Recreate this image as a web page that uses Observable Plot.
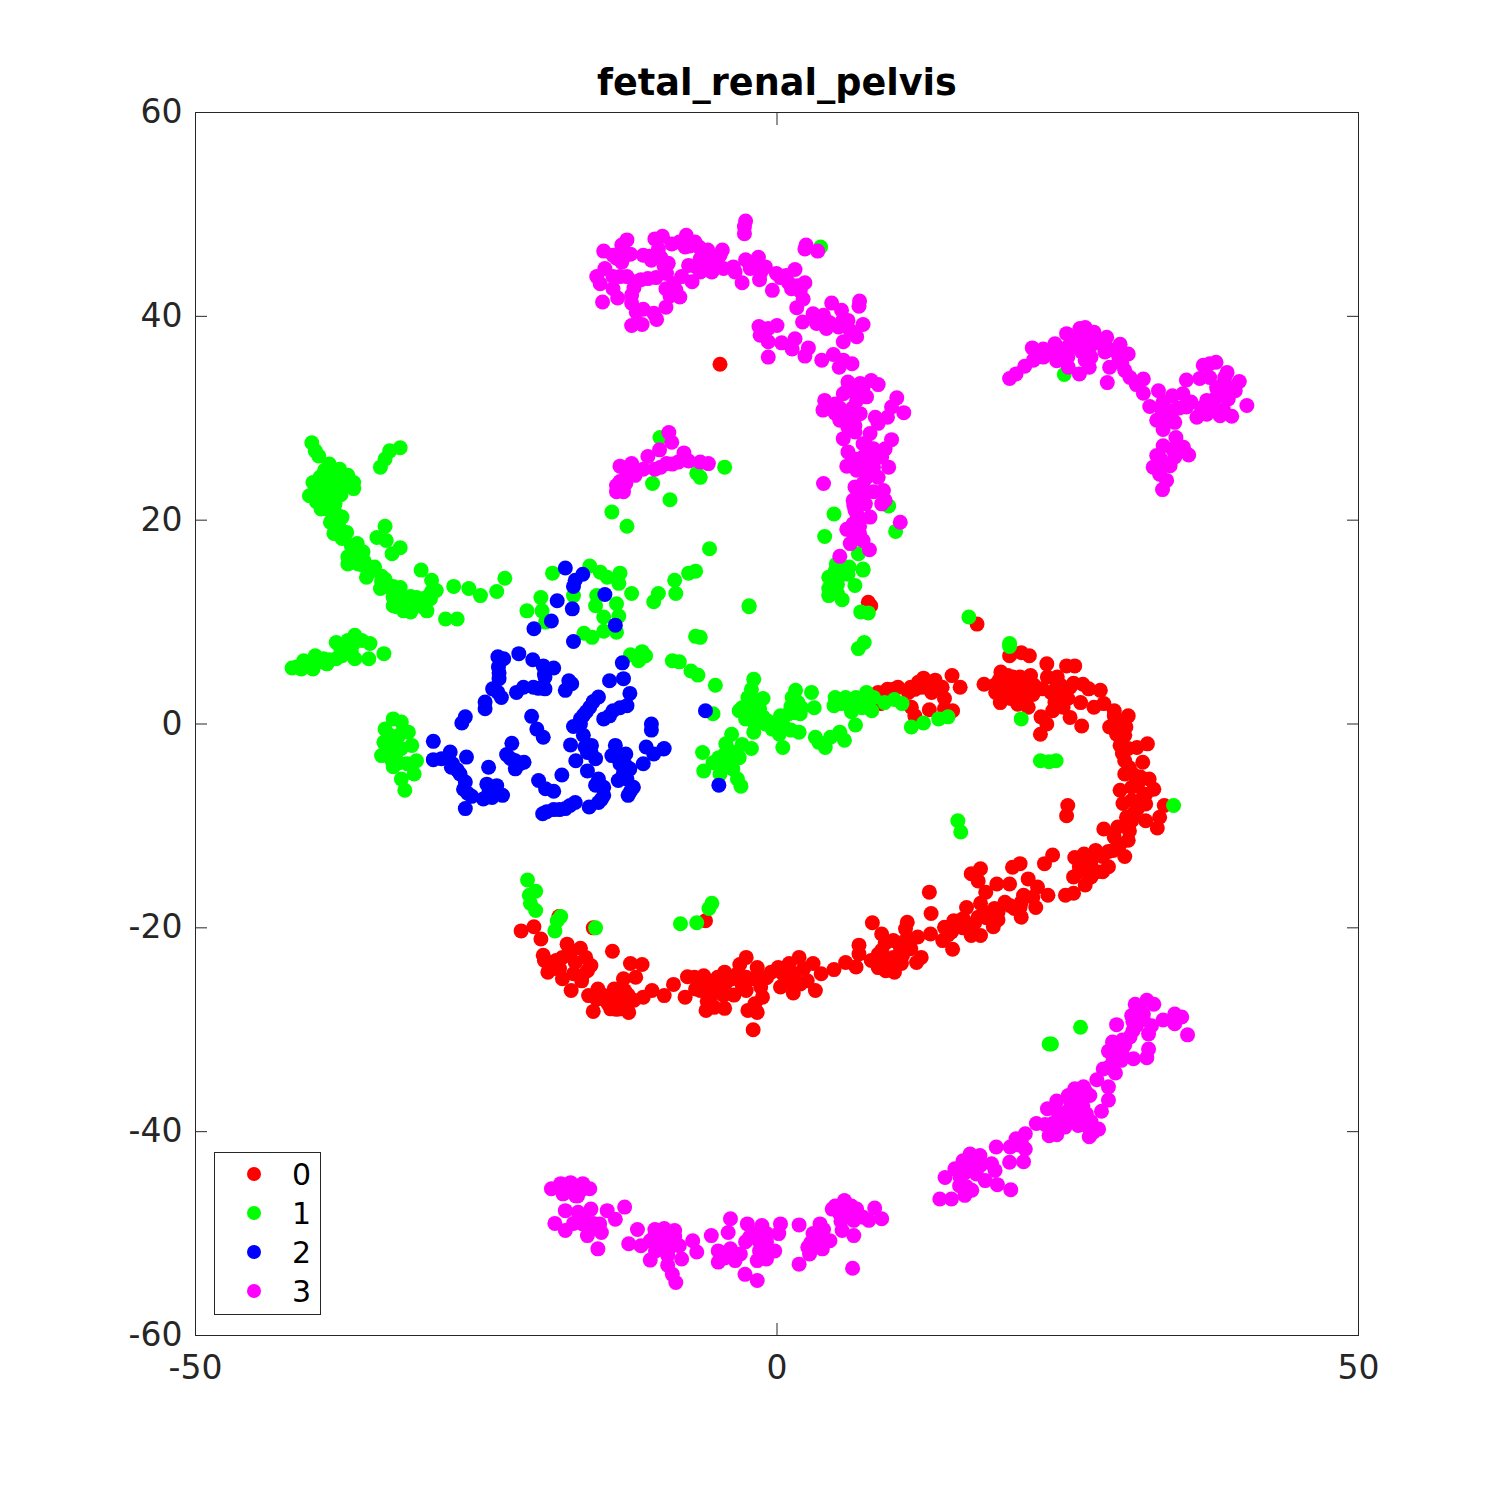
<!DOCTYPE html>
<html>
<head>
<meta charset="utf-8">
<script src="https://cdn.jsdelivr.net/npm/d3@7"></script>
<script src="https://cdn.jsdelivr.net/npm/@observablehq/plot@0.6"></script>
<style>
html,body{margin:0;padding:0;background:#fff}
#wrap{position:relative;width:1500px;height:1500px;font-family:"DejaVu Sans",sans-serif}
#legend{position:absolute;left:214px;top:1152px;width:105px;height:161px;border:1px solid #262626;background:#fff}
#legend .row{position:absolute;left:0;width:105px;height:39px}
#legend .sw{position:absolute;left:32px;top:12px;width:14px;height:14px;border-radius:50%}
#legend .lb{position:absolute;left:77px;top:0;font-size:30px;line-height:39px;color:#000}
</style>
</head>
<body>
<div id="wrap"></div>
<script>
const chartTitle = "fetal_renal_pelvis";
const labels = ["0","1","2","3"];
const colors = ["#ff0000","#00ff00","#0000ff","#ff00ff"];
const xTicks = [-50,0,50];
const yTicks = [-60,-40,-20,0,20,40,60];

const series0 = [[-4.9,35.3],[7.85,11.95],[8.06,11.6],[17.2,9.8],[8.7,3.1],[9.5,3.4],[10.4,3.6],[11.3,3.1],[11.85,3.4],[12.15,4.1],[12.6,4.5],[13,3.8],[13.6,4.3],[14.2,3.6],[13.3,3.1],[14.4,2.5],[15.05,4.75],[15.75,3.6],[11.55,1.65],[11.85,0.8],[13.1,1.4],[15.1,1.3],[14.4,1.5],[8.9,2],
[20,6.7],[21,7],[21.7,6.7],[23.2,5.9],[24.9,5.7],[25.6,5.7],[17.8,3.9],[18.7,3.8],[19.25,5.1],[19.85,4.75],[19.1,4.3],[20.1,3.9],[20.9,4.6],[21.8,4.75],[18.8,3.1],[19.55,2.95],[19.2,2.1],[20.1,2.5],[21,2.6],[20.7,1.95],[21.6,1.65],[22.1,3.8],[22.8,3.45],[23.25,4.6],[24.1,4.6],[23.55,3.1],[24.4,3.8],[25.2,3.6],[26.3,3.9],[26.8,3.45],[26.1,2.1],[24.4,2.5],[24.6,1.65],[23.7,1.3],[22.7,0.7],[25.2,0.65],[23.2,0],[22.65,-1],[26.2,-0.2],[27.8,3.3],[27.25,1.65],[28.1,2],[29,0.8],[30.2,0.8],[28.6,-0.3],[29.6,0],[29.9,-1.1],[29.5,-2.1],[31.85,-1.95],[30.95,-2.3],[30.2,-2.4],[29.9,-3.6],[31.45,-3.75],[29.9,-4.9],[31.25,-5.2],[32,-5.4],[29.5,-6.5],[30.5,-6.2],[32.4,-6.4],[31.7,-6.9],[29.75,-7.8],[31.7,-7.85],[33.3,-8],[32.9,-9.15],[31.7,-9.5],[30.65,-8.8],[30.05,-9.15],[32.7,-10.2],[28.1,-10.3],[29.3,-10.1],[30.2,-10.1],[29,-11.1],[30.2,-11.4],[25,-8],[24.9,-9],[28.9,-12.4],[29.9,-13],[27.4,-12.4],[26.4,-12.75],[25.6,-13.1],[23.7,-12.85],[26,-14],[27,-15],[27.5,-14.5],[28.5,-14],[25.5,-15],[26.5,-15.8],[24.8,-16.8],[25.5,-16.6],[27,-13.5],
[23,-13.7],[20.9,-13.7],[20.25,-14.05],[17.5,-14.2],[16.7,-14.7],[18.9,-15.7],[17.3,-15.4],[17.95,-16.5],[20,-15.7],[21.6,-15.2],[22.4,-16],[23.3,-16.8],[21.2,-16.8],[22.25,-18],[19.6,-17.5],[17.5,-17.6],[18.7,-18.1],[17.3,-18.95],[20.4,-18.1],[21,-18.95],[18.6,-19.9],[17.5,-20.75],[16.7,-20.75],[16,-19.1],[15.2,-19.3],[14.4,-19.95],[13.2,-20.6],[14.25,-21.25],[15.1,-22.1],[13.1,-16.5],[13.25,-18.6],[11.2,-19.45],[8.2,-19.5],[9,-20.6],[7.05,-21.7],[7.05,-22.55],[8.1,-23.2],[9,-22.2],[10,-21.25],[10.6,-21.9],[11.5,-21.25],[11.05,-20.1],[12.1,-20.9],[11.5,-22.05],[12.4,-22.9],[12,-23.4],[10,-22.9],[8.7,-23.9],[10.1,-24.35],[9.35,-24.2],[10.7,-23.5],[6.8,-23.85],[5.9,-23.4],[4.9,-24.1],[3.8,-24.5],[3.1,-23.5],[1.9,-22.9],[1.05,-23.5],[0.1,-23.9],[-0.5,-24.35],[2.3,-24],[2.6,-25.2],[3.3,-26.15],[1.4,-26.4],[0.3,-25.8],[0.75,-25.2],[-1.7,-23.9],[-2.65,-22.9],[-3.2,-23.6],[-4.5,-24.35],[-2.65,-24.85],[-3.85,-25],[-1.4,-25.8],[-2.65,-26.15],[-3.7,-26.6],[-1.25,-26.8],[-1.9,-27.45],[-2.5,-28.1],[-1.7,-28.3],[-2.05,-30],[-4.5,-27.9],[-5.4,-27.8],[-6.1,-28.1],[-4.6,-26.6],[-5.7,-26.8],[-6.6,-26.15],[-5.55,-25.5],[-6.3,-24.7],[-7.7,-24.8],[-7.1,-24.85],[-5.1,-24.85],[-7.9,-26.8],[-8.9,-25.55],[-9.7,-26.65],[-10.75,-26.15],[-11.5,-26.8],[-12.6,-23.5],[-11.6,-23.6],[-13.2,-25],[-12.15,-24.85],[-14.15,-22.3],[-14,-26],[-13.1,-26.15],[-14.3,-26.8],[-13.4,-27.1],[-12.3,-27.1],[-14.3,-27.95],[-12.75,-28.3],[-13.4,-27.95],[-15.8,-28.2],[-14.75,-27.1],[-15.4,-26],[-16.2,-26.65],[-17.7,-26.15],[-16,-23.7],[-16.45,-22.9],[-16.9,-22],[-18.05,-21.6],[-17.35,-23.4],[-16.75,-24.7],[-18.45,-22.9],[-20.1,-22.7],[-20,-23.2],[-19.2,-24],[-19.7,-24.35],[-18.45,-25],[-22,-20.3],[-20.9,-19.9],[-20.3,-21.1],[-18.75,-18.9],[-15.8,-20],[-6.15,-19.3],
[-15,-26.6],[-14.5,-27.5],[-13.7,-26.6],[-12.8,-26.6],[-13.8,-28],[-12.9,-27.6],[-15.5,-27],[-16.8,-25.2],[-16.3,-24.2],[-17.5,-24.5],[-18.7,-24],[-19,-23.2],[-17.8,-22.5],[-7,-26],[-6.2,-25.6],[-6,-27.2],[-5,-26],[-4.4,-25.4],[-3.4,-24.5],[-3,-25.6],[-2,-25],[-0.9,-24.9],[0.5,-24.5],[1.5,-24.5],[1.2,-25.3],[2,-25.5],[8.7,-22.6],[9.5,-23.3],[10.4,-23],[9.3,-21.5],[10.8,-22.7],[9,-23.1],[11,-21.3],[15,-20.4],[16,-20],[17,-19.5],[18,-19],[19,-18.5],[20,-17.8],[21,-17.5],[22,-17],[19,-19.2],[17.8,-18.5],[20.9,-18],[16.3,-18],[14.7,-20.7],[26,-14.5],[26.5,-13.5],[27,-14],[28,-13],[28,-14.5],[28.5,-12.5],[29.5,-11.8],[30.3,-10.5],[30.5,-9.5],[31,-8.3],[30.5,-7.5],[31,-6],[30.7,-5],[31.5,-7],[30.3,-4.3],[29.7,-2.9],[29.2,-1],[30,-0.3],[29,1.3],[20.5,3.5],[21,3.7],[19.5,3.5],[20.3,4.6],[21.5,3.8],[22,2.9],[20.5,3],[19,3.5],[24,3.5],[24.8,3],[25,2.5],[23.9,2.1],[25.5,4],[11.5,3.6],[12.8,3.6],[13.5,3.6],[13.8,3.7],[12.4,3.6],[10,3.4]];

const series1 = [[-40,27.6],[-39.7,26.8],[-39.4,26.3],[-38.5,25.5],[-37.6,25],[-36.9,24.4],[-36.4,23.7],[-36.4,23.1],[-37.4,24.1],[-38.9,24.9],[-39.3,24.2],[-39.9,23.7],[-39.3,23.1],[-40.2,22.4],[-39.6,21.8],[-39.2,21.1],[-38,21.6],[-37.4,20.3],[-38.4,19.8],[-38.1,18.7],[-37.4,18.2],[-36.1,17.7],[-35.6,16.9],[-36.9,16.4],[-36.9,15.7],[-36,15.7],[-34.6,15.4],[-35.3,14.4],[-33.7,14.2],[-34.1,13.3],[-32.4,13.4],[-33,12.4],[-32.7,11.5],[-32.1,11.1],[-31,12.4],[-30.1,11.1],[-33.7,19.4],[-34.4,18.3],[-33.6,18],[-32.4,17.3],[-33.1,16.7],[-30.6,15.1],[-29.7,14.1],[-29.3,13.1],[-29.8,12.3],[-27.8,13.5],[-26.5,13.3],[-25.5,12.6],[-24.1,13],[-23.4,14.3],[-28.5,10.3],[-27.5,10.3],[-33.3,26.8],[-32.4,27.1],[-33.7,26],[-34.1,25.2],[-39,22.5],[-38,23.5],[-38.5,22.5],[-37.5,22.5],[-37,18.8],[-36.5,17],[-35.5,15.5],[-34,14.5],[-33,13],[-32,12.3],[-31,12],[-31.5,11],[-30.5,12.3],
[-41.7,5.5],[-41.3,5.6],[-40.9,5.4],[-39.9,5.4],[-40.7,6.2],[-39.7,6.7],[-39.3,6.1],[-38.7,5.9],[-37.9,6.4],[-37.9,8],[-37.4,6.7],[-36.9,8.2],[-36.3,8.7],[-35.7,8.2],[-35,7.9],[-33.8,6.9],[-35.1,6.4],[-36.3,6.4],[-37.1,7.5],
[-33,0.5],[-32.3,0.2],[-33.7,-0.5],[-31.7,-0.8],[-33.8,-1.8],[-34,-3.1],[-32.8,-2.9],[-31.4,-2.1],[-32.3,-2.4],[-31.8,-3.9],[-31,-3.6],[-31.2,-4.9],[-32.3,-5.4],[-32,-6.5],[-33.1,-3.6],[-33.3,-1.1],[-33,-4.2],
[-19.3,14.8],[-16.1,15.5],[-15.2,14.9],[-14.6,14.4],[-13.5,14.8],[-13.6,13.8],[-12.5,12.8],[-10.2,12.8],[-10.6,12],[-8.8,14.1],[-8.7,12.8],[-7.6,14.8],[-20.3,12.4],[-21.5,11.1],[-20.2,11.1],[-19.9,10],[-17.5,12.6],[-15.5,12.6],[-15.6,11.6],[-13.8,11.8],[-13.6,10.6],[-14.9,10.5],[-16.6,8.9],[-15.9,8.5],[-14.9,9.1],[-13.8,9],[-12.6,6.8],[-11.6,7.1],[-11.3,6.7],[-11.9,6.2],
[-7,15],[-2.4,11.6],[-2.4,11.5],[-7,8.6],[-6.6,8.5],[-9,6.2],[-8.4,6.1],[-7.4,5.2],[-6.8,4.8],[-5.3,3.8],[-5.5,1],
[-2,4.4],[-2.2,3.4],[-2.5,2.6],[-1.2,2.5],[-3,1.6],[-2.1,1.97],[-1.5,1.5],[-2.4,0.8],[-1.2,0.7],[-1.9,0],[-2,-0.8],[-1,0],[-0.4,-0.5],[0.3,0.8],[0.2,-1],[0.5,-2.3],[1,1],[1.2,-0.6],[1.9,-0.8],[1.6,3.3],[1.3,2.6],[2.97,3.1],[2.1,1.6],[3.2,1.6],[1.8,2.1],[-3.25,1.3],[5,2.6],[4.9,1.8],[5.9,2.6],[6.8,2.6],[7.7,3.1],[8.3,2.6],[6.4,1.2],[7.3,1.6],[8.15,1.3],[6.75,-0.1],[9.25,2.1],[10.1,2.4],[10.75,2],[3.3,-1.3],[4.15,-2.3],[4.6,-1.3],[5.4,-0.8],[5.8,-1.6],[3.6,-1.8],[11.55,-0.3],[12.6,0.1],[13.9,0.5],[14.7,0.7],
[-3.9,-1],[-4.4,-1.95],[-3,-2],[-2.2,-2.4],[-3.25,-3.3],[-4.1,-2.6],[-6.4,-2.8],[-5.5,-3.8],[-4.7,-3.9],[-6.3,-4.6],[-3.8,-4.4],[-4.9,-4.9],[-3.4,-5.4],[-3.1,-6.1],
[7.4,15.1],[6.2,15.4],[5.3,15.5],[4.45,14.4],[5.3,14.4],[6.7,13.6],[4.45,13.3],[4.45,12.6],[5.6,12.2],[5,13.3],[6.1,14.7],[7.2,11],[7.85,10.9],[7.5,8],[7,7.4],[16.5,10.5],[20,7.9],[20,7.6],[21,0.5],[22.65,-3.6],[23.4,-3.7],[24,-3.6],[15.55,-9.5],[15.8,-10.6],[34.1,-8],
[-10.06,28.1],[-4.5,25.2],[-6.9,24.6],[-6.6,24.2],[-10.7,23.6],[-9.2,22],[-14.2,20.8],[-12.9,19.4],[-5.8,17.2],[3.75,46.8],[4.9,20.6],[4.1,18.4],[9.6,21.4],[10.2,18.9],[7,16.7],[5.1,15.7],[7.4,15.2],
[-21.45,-15.3],[-20.75,-16.4],[-21.3,-16.8],[-21.2,-17.6],[-20.75,-18.3],[-18.6,-18.9],[-18.9,-19.3],[-19.1,-20.3],[-15.6,-20],[-8.3,-19.6],[-6.9,-19.5],[-5.85,-18.1],[-5.6,-17.6],[23.6,-31.4],[23.4,-31.4],[26.1,-29.75],[24.7,34.3],
[-38.7,24],[-38,24.5],[-37,23.5],[-38.8,23.3],[-39.7,22.9],[-39,21.8],[-38.5,21],[-37.8,20.5],[-37.7,19.5],[-37.7,19],[-36.6,17.5],[-36.4,16.3],[-35.5,16],[-35,15],[-34,14],[-33.5,13.5],[-33,13.5],[-32.5,12.5],[-33,11.6],[-31.5,12.5],[-30.5,11.5],[-29.7,13],[-30,12.5],[-40.2,5.9],[-39,6.4],[-38.5,6.3],[-37.5,7.3],[-36.5,7.7],[-36.6,7],[-2.7,1.5],[-2.2,1],[-1.5,0.2],[-2.7,0.5],[-1.8,2.3],[-2.4,2.2],[-0.8,0.3],[0,-0.2],[0.5,0],[1.6,1.1],[2,1],[1.2,1.7],[6,2],[6.8,1.9],[5.5,2],[7.5,2.2],[6.5,2.3],[-4.5,-3],[-4.4,-3.5],[-3.8,-3],[-5,-3.3],[-4.4,-4.2],[4.7,14],[5.2,13.7],[5.5,14.7],[5,15],[4.6,13.5],[5.2,12.8],[-32.5,-1.1],[-33.2,-2.2],[-32.8,-1.7],[-33.2,-3.3],[-32.5,-3.8]];

const series2 = [[-18.2,15.3],[-16.7,14.7],[-17.35,14.1],[-17.5,13.5],[-14.8,12.7],[-18.9,12.1],[-17.6,11.3],[-19.4,10.1],[-20.9,9.35],[-13.9,9.7],[-17.5,8.1],[-13.3,6],[-24,6.6],[-23.5,6.4],[-22.2,6.9],[-21,6.3],[-20.1,5.7],[-19.2,5.5],[-23.95,5.6],[-19.95,4.6],[-23.9,4.45],[-24.45,3.45],[-23.7,2.6],[-22.4,3.1],[-21.8,3.6],[-20.95,3.6],[-19.95,3.45],[-17.9,4.25],[-17.65,3.95],[-18.2,3.3],[-14.4,4.25],[-13.2,4.45],[-12.65,3],[-12.9,1.8],[-14.1,1.3],[-14.9,0.5],[-15.35,2.65],[-16.1,1.65],[-16.65,0.85],[-16.9,0],[-17.5,-0.25],[-25.1,2.15],[-25.1,1.5],[-26.8,0.7],[-27.1,0.1],[-21.1,0.75],[-20.65,-0.5],[-20.1,-1.3],[-10.8,0],[-10.8,-0.6],[-29.55,-1.7],[-29.55,-3.5],[-28.85,-3.4],[-28.1,-2.75],[-28,-4.25],[-27.25,-4.9],[-26.7,-3.25],[-26.95,-6.4],[-26.25,-7.1],[-26.8,-8.3],[-24.8,-4.25],[-24.95,-5.9],[-24.1,-6.05],[-25.25,-7.35],[-24.5,-7.2],[-23.6,-7],[-22.8,-1.9],[-23.25,-3],[-22.5,-3.6],[-21.75,-3.75],[-22.5,-4.4],[-20.5,-5.55],[-19.9,-6.35],[-19.2,-6.6],[-18.5,-5],[-20.15,-8.8],[-19.2,-8.4],[-18.2,-8.3],[-17.35,-7.7],[-16.15,-8.15],[-15.35,-7.7],[-14.9,-7],[-14.9,-6.2],[-15.35,-5.4],[-16.3,-4.6],[-17.3,-3.6],[-17.75,-2.05],[-16.65,-1.1],[-16.5,-2.25],[-15.95,-2.1],[-15.6,-3.4],[-13.9,-2.1],[-14.2,-3.1],[-13,-2.95],[-13.5,-3.9],[-12.65,-4.4],[-13.65,-5.55],[-12.35,-6.2],[-12.8,-7],[-11.25,-2.25],[-9.75,-2.45],[-10.6,-2.95],[-11.5,-3.9],[-9.7,-2.4],[-6.15,1.3],[-5,-6],
[-23.9,5],[-20,4.9],[-20.5,3.5],[-24,3.1],[-16.9,0.5],[-15.8,2.2],[-16.4,1.2],[-14.4,0.8],[-13.5,1.6],[-27.5,-4.5],[-26.8,-5.7],[-26.6,-6.8],[-24.6,-6.6],[-24.8,-6.8],[-22.9,-3.4],[-22.1,-3.9],[-15.1,-7.4],[-15.6,-6],[-13.3,-3.4],[-13.2,-4.8],[-13,-4.1],[-12.9,-5.4],[-12.6,-6.6],[-19.8,-8.6],[-18.7,-8.4],[-17.8,-8],[-16,-2.8],[-16.3,-2.8],[-27.9,-3.9]];

const series3 = [[-14.9,46.4],[-13.35,47],[-12.9,47.5],[-14.1,46],[-12.6,46.1],[-13.35,45.3],[-11.5,46],[-10.5,47.6],[-9.85,47.85],[-10.2,46.6],[-10.8,45.5],[-9.35,45.2],[-9.5,44.2],[-14.8,44.7],[-15.5,43.9],[-15.2,43.2],[-14.1,43.9],[-12.9,43.9],[-12.1,43.4],[-11.1,43.7],[-10.4,43.8],[-14.1,42.7],[-13.7,41.8],[-15,41.4],[-12.5,42.1],[-12.5,41.3],[-12.1,40.4],[-11.5,40.7],[-10.6,40.3],[-10.35,39.7],[-12.5,39.1],[-11.6,39.2],[-9.55,40.9],[-9.55,42.7],[-8.9,43.2],[-8.35,41.9],[-8.2,43.9],[-7.3,43.4],[-9.05,47.1],[-7.8,47.95],[-7.05,47.3],[-7.9,46.8],[-5.95,46.5],[-4.7,46.5],[-7.6,45],[-6.6,45.65],[-5.5,45.5],[-6.6,44.35],[-5.6,44.35],[-4.6,44.7],[-3.75,44.85],[-3.6,44.35],[-3,43.3],[-2.7,49.35],[-2.8,48.8],[-2.8,48.1],[-2.7,45.55],[-1.6,45.8],[-2.3,44.7],[-1,44.85],[-1.5,43.6],[-0.4,42.55],[-0.05,44.2],[1.55,44.6],[0.8,44],[2.4,43.3],[1.25,42.7],[2.25,41.7],[1.7,40.85],[2.5,47],[2.4,46.6],[3.5,46.4],[7.1,41.5],[7.05,41],[4.7,41.3],[5.55,40.6],[3.1,40.25],[2.2,39.45],[3.4,39.3],[4.25,38.8],[5.3,38.95],[6.1,39.6],[7.4,39.2],[6.85,38],[5.7,37.5],[-1.55,39],[0,39.1],[-0.75,38.8],[-1.45,38.15],[-0.75,37.5],[0.4,37.4],[1.55,37.8],[1.3,36.8],[2.7,36.9],[2.4,36.1],[-0.75,36],[3.85,35.7],[4.85,36.25],[5.35,35],[6.45,35.35],[5.7,35.7],
[6.1,33.55],[8.1,33.7],[8.7,33.3],[7.15,33.4],[4.1,31.75],[3.95,30.8],[5.7,32.4],[5,31.4],[6.85,31.75],[7.7,32.1],[7.15,30.45],[10.3,32],[9.85,31.1],[10.9,30.55],[8.45,30.1],[9.5,30.1],[8.7,29.5],[5.4,29.8],[6.1,29.1],[5.7,28],[6.7,28.65],[8,28.5],[6.1,26.7],[7.6,27.5],[9.85,27.9],[9.3,27],[8.3,27],[7.4,26.2],[9,26.2],[6,25.3],[6.85,24.9],[8.3,25.2],[9.6,25.2],[7.7,24.2],[8.7,24.2],[6.7,23.25],[8.3,22.8],[9.15,22.9],[9,21.6],[9.3,21.95],[6.55,21.95],[7.6,21.6],[6.85,20.65],[8,20.3],[6.55,19.65],[10.6,19.8],[6,19.1],[7.1,18.7],[6.3,17.7],[7.4,18],[7.95,17.1],[5.4,16.45],[4,23.6],
[-9.3,28.6],[-9.05,27.65],[-10.1,26.9],[-11.1,26.25],[-8,26.6],[-7.6,25.8],[-6.6,25.7],[-5.9,25.55],[-13.5,25.3],[-12.5,25.55],[-13,24.2],[-12.2,24.4],[-13.8,23.4],[-13.2,22.8],[-11.5,25],[-10.5,25],[-9.5,25.55],[-8.5,25.7],[-13.8,22.8],
[20,33.9],[20.55,34.35],[21.3,35.1],[21.95,36.9],[22.05,35.7],[22.9,36.8],[22.9,36],[23.9,37.3],[24.05,35.65],[24.9,38.3],[25.05,35],[24.75,36.65],[26,34.35],[26.85,35],[26.05,38.8],[26.5,38.9],[27.25,38.45],[28.35,37.95],[25.75,37],[26.9,37],[27.9,37.3],[28.2,36.5],[29.5,37.25],[30.2,36.3],[28.4,33.5],[28.6,35],[29.65,35.35],[29.9,34.7],[30.35,34],[31.5,33.85],[30.9,33.3],[31.5,32.45],[32.8,32.7],[32.05,31.15],[32.65,29.8],[33.2,28.9],[33.2,31.6],[34,32.2],[34.05,30.75],[34.2,29.6],[35.2,33.75],[34.9,32.4],[35.2,31.1],[36.1,30.1],[36.65,35.2],[37.75,35.5],[37.2,35.35],[36.35,33.9],[37.2,34],[38.7,34.5],[39.75,33.6],[39.4,32.7],[38.4,33.4],[36.95,31.75],[37.8,32.1],[38.8,31.9],[36.95,30.4],[38.1,30.25],[39.1,30.2],[40.4,31.25],[34.3,28.1],[33.2,27.3],[34.95,27.15],[35.4,26.4],[32.65,26.35],[34.2,26.2],[32.35,25.2],[33.8,25.35],[32.9,24.5],[33.5,23.9],[33.15,23],
[30.8,-27.5],[31.8,-27.1],[32.4,-27.5],[34.2,-28.45],[34.8,-28.75],[34.2,-29.4],[33.2,-29.05],[35.3,-30.5],[29.2,-29.5],[30.5,-28.6],[31.5,-28.45],[30.9,-29.6],[32.2,-29.6],[30.35,-30.7],[31.95,-30.4],[28.85,-31.2],[28.5,-32.1],[29.65,-32.2],[31.95,-31.9],[31.8,-32.75],[30.65,-32.85],[28.9,-33],[28.05,-33.85],[29.1,-34.25],[27.5,-34.9],[28.5,-35.6],[26.35,-35.6],[25.6,-35.8],[25.05,-36.45],[26.9,-36.45],[28.5,-36.9],[24.05,-37],[23.25,-37.75],[25.75,-37.45],[27.9,-38],[26.6,-38.25],[24.2,-38.25],[25.5,-38.75],[24.75,-39.55],[25.9,-39.4],[27.65,-39.75],[26.85,-40.5],[27.2,-40.05],[24.05,-40.3],[23.4,-40.4],[23.05,-39.3],[22.3,-39.2],[21.35,-40.2],[20.55,-40.7],[20.05,-41.5],[21.35,-41.7],[18.85,-41.5],[20,-43],[21.2,-42.95],[16.6,-42.2],[17.45,-42.35],[16,-42.85],[18.45,-43.15],[15.3,-43.65],[14.45,-44.5],[15.75,-44.5],[17.15,-44.15],[17.9,-44.8],[18.75,-43.8],[18.95,-45.2],[20.1,-45.7],[16.75,-45.75],[16.15,-46.25],[15,-46.6],[14,-46.6],
[-19.4,-45.6],[-18.6,-45.1],[-17.75,-45],[-16.7,-45.1],[-16.1,-45.6],[-18.4,-46.1],[-17.15,-46.3],[-18.2,-47.75],[-17.1,-47.9],[-16,-47.6],[-14.6,-47.75],[-13.1,-47.4],[-13.9,-48.6],[-19.1,-49],[-18.2,-49.7],[-16.7,-49.05],[-15.25,-49.05],[-16.3,-50.2],[-15.1,-49.9],[-15.4,-51.5],[-12,-49.6],[-12.75,-51],[-11.7,-51.2],[-10.25,-49.7],[-8.8,-49.7],[-10.9,-50.7],[-9.4,-50.7],[-8.4,-51.2],[-10.45,-51.7],[-10.9,-52.6],[-9.4,-52.15],[-9.4,-53.1],[-8.2,-52.5],[-9,-54],[-8.7,-54.8],[-7.25,-50.7],[-6.9,-51.8],[-5.65,-50.2],[-4.2,-49.9],[-4,-48.55],[-2.55,-49.05],[-1.3,-49.2],[0.3,-49.05],[0.15,-50],[-2.35,-50.35],[-5.05,-51.7],[-5.05,-52.8],[-3.6,-52.65],[-3.15,-52],[-1.5,-51.7],[-1.7,-52.65],[-0.2,-51.7],[-0.9,-52.5],[-2.75,-54],[-1.7,-54.6],[1.9,-53],[1.9,-49.15],[2.8,-52],[2.65,-51.35],[3.7,-49.05],[3.1,-50],[3.9,-51.5],[4.55,-50.7],[4.75,-47.6],[5.8,-46.75],[5.4,-48.05],[5.6,-49.7],[6.85,-47.6],[6.6,-48.7],[6.6,-50.2],[8.4,-47.5],[7.9,-48.7],[9,-48.55],[6.5,-53.4],
[-13.8,45.7],[-13,46],[-11,45.9],[-10,45.8],[-9.7,44.9],[-13.5,43.9],[-11.7,43.6],[-12.3,42.8],[-9.2,42],[-8.7,42.6],[-7.5,46.9],[-8.4,47.3],[-6.7,46.8],[-6.7,45],[-5.5,45],[-6,44.6],[-7,44.9],[-4.9,46],[-2,44.8],[-1.4,44.3],[0.3,43.8],[1,43.3],[1.8,43],[2,42.5],[4,40.1],[4.5,39.4],[5.6,39.5],[6,39],[6.3,38.6],
[6.6,32.7],[6,32.7],[7,32.8],[6.5,31],[7.4,33],[5.4,31],[5.9,30.5],[6.4,30],[6.7,29.3],[5,30.5],[7.4,27.5],[8.2,26],[7.8,25.8],[7.8,25],[7.3,24.9],[7.2,23],[7.6,22.7],[7,22],[6.7,21],[7.1,20],[7.1,19.4],[6.5,18.8],[6.8,18.2],[6.6,21.5],[7.4,23.6],[8.5,26.5],[6.7,26],
[25,37],[25.9,37.8],[26.5,38],[26.2,36.5],[25,36],[24.3,36.7],[23.4,36.6],[27,36],[26.5,35.7],[27.2,37.5],[28.9,36.7],[29.4,35.9],[33,31],[33.5,30.8],[34.6,31],[35.6,31.6],[36.5,31],[37.4,30.9],[37.5,31.3],[38.4,32.5],[39,33],[37.8,33],[38.4,30.8],[33.3,30],[34,27],[33,26],[33.3,25.5],[33,25],[38.5,34],
[31,-28],[31.5,-29],[31,-28.6],[30.6,-29.2],[30.6,-30.1],[29.9,-31.5],[29.7,-31],[29.3,-32.6],[29.6,-33],[28.5,-33.7],[26.5,-36],[26,-37],[25.3,-37.2],[26.3,-37.5],[25,-38],[26,-38.5],[26.7,-39.5],[24.5,-39.2],[23.7,-39.2],[27,-39],[16.5,-43.3],[17,-43.5],[16.2,-44],[17.5,-43.3],[15.7,-45.3],[16.3,-45.4],[21,-41],[20.8,-41.3],
[-18.4,-45.5],[-17.6,-45.7],[-16.9,-45.8],[-17.3,-46.3],[-17,-48.5],[-17.5,-49],[-16.5,-48.7],[-15.8,-49],[-16,-49.6],[-10.5,-50.2],[-10,-51.2],[-9.3,-51.5],[-8.8,-50.3],[-9.5,-49.9],[-2.7,-50.8],[-2,-50],[-0.9,-50],[-1.5,-50.8],[-0.9,-50.8],[-1.2,-52],[-4.5,-52.4],[-4,-51.5],[-3.9,-52.2],[2.9,-50.9],[3.4,-50.8],[3.6,-50],[4,-49.6],[5,-47.3],[5.7,-48.4],[6,-48.1],[5.5,-48.8],[6.2,-47.9],[6.4,-47.3],[7.4,-48.4],[-10.5,-49.6],[-9.7,-49.5],
[-12.5,25],[-12.9,24.8],[-13.5,23.8],[-13.4,23.2],[-13,23.6],[-10,25.2],[-9,25.5]];

const allSeries = [series0, series1, series2, series3];
const rows = allSeries.flatMap((pts, i) => pts.map(([x, y]) => ({x, y, label: labels[i]})));
const ink = "#262626";

const chart = Plot.plot({
  width: 1500, height: 1500,
  marginLeft: 195, marginRight: 142, marginTop: 112, marginBottom: 165,
  style: {background: "#fff", fontFamily: "DejaVu Sans, sans-serif", overflow: "visible"},
  x: {domain: [-50, 50]},
  y: {domain: [-60, 60]},
  color: {domain: labels, range: colors},
  marks: [
    Plot.frame({stroke: ink, strokeWidth: 1}),
    Plot.axisX({anchor: "bottom", ticks: xTicks, tickSize: -12, tickPadding: 32, fontSize: 33, label: null, stroke: ink, fill: ink, tickFormat: d => String(d)}),
    Plot.axisX({anchor: "top", ticks: xTicks, tickSize: -12, tickFormat: () => "", label: null, stroke: ink}),
    Plot.axisY({anchor: "left", ticks: yTicks, tickSize: -12, tickPadding: 25, fontSize: 33, label: null, stroke: ink, fill: ink, tickFormat: d => String(d)}),
    Plot.axisY({anchor: "right", ticks: yTicks, tickSize: -12, tickFormat: () => "", label: null, stroke: ink}),
    Plot.dot(rows, {x: "x", y: "y", fill: "label", r: 7.5, stroke: "none"}),
    Plot.text([chartTitle], {text: d => d, frameAnchor: "top", dy: -44, fontSize: 36.6, fontWeight: "bold", fill: "#000"})
  ]
});
const wrap = document.getElementById("wrap");
wrap.appendChild(chart);

const legend = document.createElement("div");
legend.id = "legend";
labels.forEach((l, i) => {
  const row = document.createElement("div");
  row.className = "row";
  row.style.top = (2 + i * 39) + "px";
  const sw = document.createElement("div");
  sw.className = "sw";
  sw.style.background = colors[i];
  const lb = document.createElement("div");
  lb.className = "lb";
  lb.textContent = l;
  row.append(sw, lb);
  legend.appendChild(row);
});
wrap.appendChild(legend);
</script>
</body>
</html>
